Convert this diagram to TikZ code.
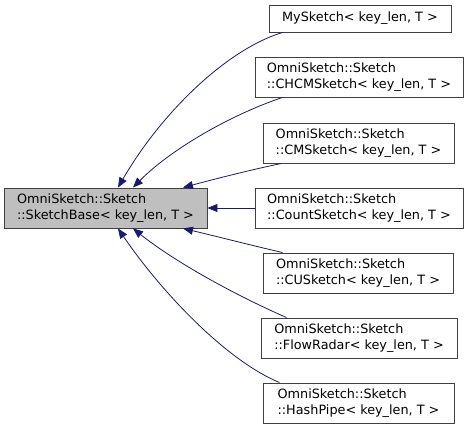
\documentclass[tikz,border=0pt]{standalone}
\usepackage{fontspec}
\setmainfont{DejaVu Sans}
\usetikzlibrary{arrows.meta}

\definecolor{edgeblue}{RGB}{25,25,112}
\definecolor{basegray}{RGB}{191,191,191}
\definecolor{framegray}{RGB}{64,64,64}

\begin{document}
\begin{tikzpicture}[x=1pt, y=-1pt,
		font=\fontsize{12.8}{16}\selectfont,
		classbox/.style={draw=framegray, line width=0.9pt, fill=white, align=left,
			inner sep=0pt, minimum height=40pt},
		basebox/.style={classbox, fill=basegray},
		inherit/.style={edgeblue, line width=0.8pt,
			-{Triangle[length=10pt, width=8pt]}}]
			\useasboundingbox (0,0) rectangle (469,430);
			% Base class
			\node[basebox, minimum width=203pt] (base) at (105.5,208)
				{OmniSketch::Sketch\\::SketchBase< key\_len, T >};
			% Derived classes
			\node[classbox, minimum width=182pt, minimum height=27pt] (mysk) at (360,18.5)
				{MySketch< key\_len, T >};
			\node[classbox, minimum width=208pt] (chcm) at (359,77)
				{OmniSketch::Sketch\\::CHCMSketch< key\_len, T >};
			\node[classbox, minimum width=191pt] (cm) at (358.5,143)
				{OmniSketch::Sketch\\::CMSketch< key\_len, T >};
			\node[classbox, minimum width=208pt] (count) at (359,208)
				{OmniSketch::Sketch\\::CountSketch< key\_len, T >};
			\node[classbox, minimum width=190pt] (cu) at (358,273)
				{OmniSketch::Sketch\\::CUSketch< key\_len, T >};
			\node[classbox, minimum width=196pt] (flow) at (359,338)
				{OmniSketch::Sketch\\::FlowRadar< key\_len, T >};
			\node[classbox, minimum width=191pt] (hash) at (358.5,403)
				{OmniSketch::Sketch\\::HashPipe< key\_len, T >};
			% Inheritance edges
			\draw[inherit] ([xshift=14pt]mysk.south west)
				.. controls (225,50) and (160,115) .. ([xshift=12.5pt]base.north);
			\draw[inherit] ([xshift=28pt]chcm.south west)
				.. controls (230,115) and (170,150) .. ([xshift=27.5pt]base.north);
			\draw[inherit] ([xshift=19pt]cm.south west)
				.. controls (250,170) and (215,179) .. ([xshift=77.5pt]base.north);
			\draw[inherit] (count.west) -- (base.east);
			\draw[inherit] ([xshift=20pt]cu.north west)
				.. controls (250,245) and (215,236) .. ([xshift=77.5pt]base.south);
			\draw[inherit] ([xshift=26pt]flow.north west)
				.. controls (235,295) and (175,262) .. ([xshift=27.5pt]base.south);
			\draw[inherit] ([xshift=17pt]hash.north west)
				.. controls (225,360) and (160,290) .. ([xshift=12.5pt]base.south);
		\end{tikzpicture}
\end{document}
